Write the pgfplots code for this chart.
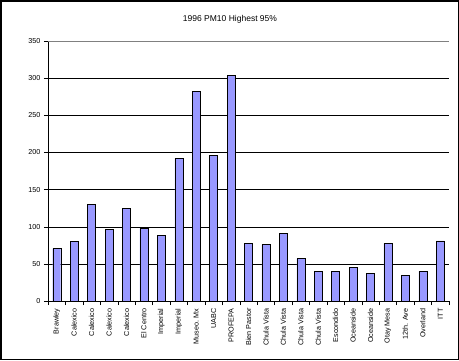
\documentclass[border=0pt]{standalone}
\usepackage{fontspec}
\setmainfont{Liberation Sans}
\usepackage{pgfplots}
\pgfplotsset{compat=1.18}
\definecolor{barblue}{RGB}{153,153,255}
\begin{document}
\begin{tikzpicture}[x=1pt,y=1pt]
\draw[line width=1.5pt] (0.75,0.75) rectangle (458.25,359.25);
\node[font=\fontsize{8.5}{10}\selectfont] at (230,341) {1996 PM10 Highest 95\%};
\begin{axis}[
  at={(48pt,59pt)}, anchor=south west,
  scale only axis, width=401pt, height=260pt,
  ymin=0, ymax=350, ytick={0,50,...,350},
  xmin=-0.5, xmax=22.5,
  xtick={0,...,22},
  xticklabels={Brawley,Calexico,Calexico,Calexico,Calexico,El Centro,Imperial,Imperial,Museo. Mx,UABC,PROFEPA,Bien Pastor,Chula Vista,Chula Vista,Chula Vista,Chula Vista,Escondido,Oceanside,Oceanside,Otay Mesa,12th. Ave,Overland,ITT},
  x tick label style={rotate=90, anchor=east, font=\fontsize{7.2}{8}\selectfont},
  y tick label style={font=\fontsize{7.2}{8}\selectfont},
  /pgf/number format/assume math mode=true,
  major x tick style={draw=none},
  minor xtick={-0.5,0.5,...,22.5},
  minor x tick style={black, thin},
  tick align=outside,
  major tick length=4pt, minor tick length=4pt,
  ymajorgrids, grid style={black, thin},
  axis x line*=bottom, axis y line*=left,
  axis line style={black, thin, -},
  y tick style={black, thin},
  ]
\addplot[ybar, bar width=0.46, fill=barblue, draw=black, thin] coordinates {
(0,70.5) (1,80) (2,130) (3,96) (4,125) (5,98) (6,88) (7,192) (8,282) (9,196) (10,304)
(11,77.5) (12,76) (13,91) (14,57) (15,40) (16,40) (17,45) (18,37) (19,77.5) (20,34.5) (21,40) (22,81)
};
\draw[gray, thin] (rel axis cs:0,1) -- (rel axis cs:1,1) -- (rel axis cs:1,0);
\end{axis}
\end{tikzpicture}
\end{document}
